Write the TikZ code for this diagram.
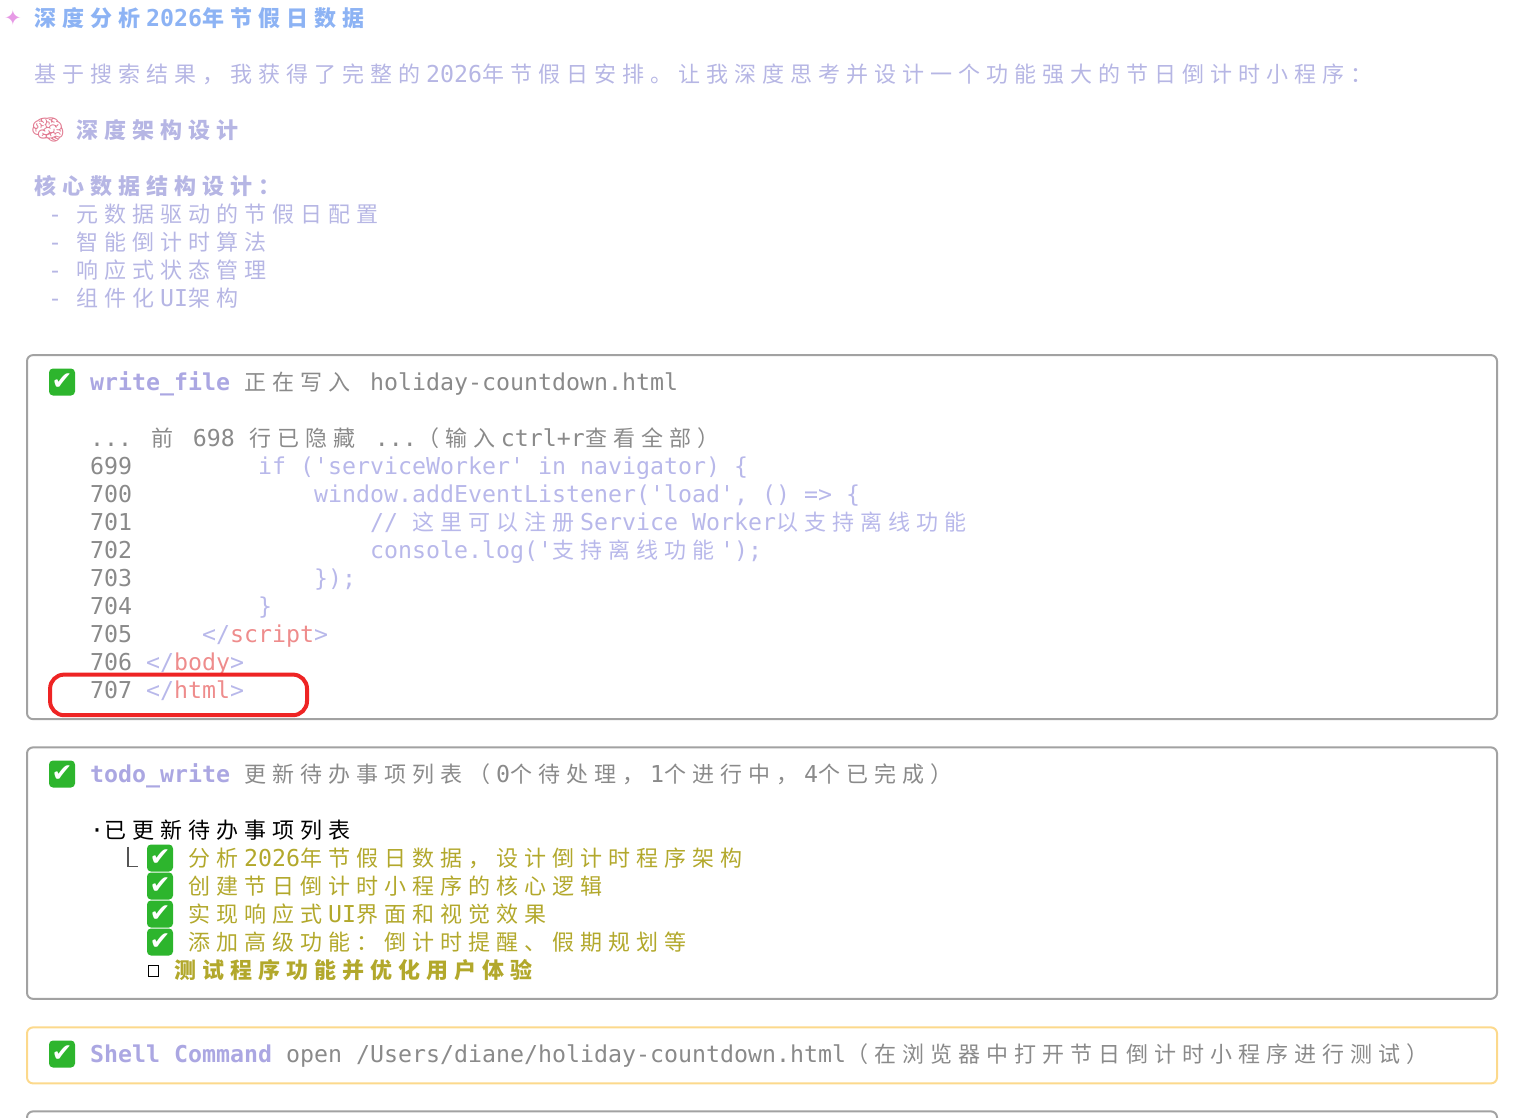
\documentclass[tikz,border=0pt]{standalone}
\usepackage{fontspec}
\newfontfamily\monof{DejaVu Sans Mono}
\newfontfamily\cjkf{Noto Sans CJK SC}
\newfontfamily\symf{DejaVu Sans}
\newfontfamily\emojif{Noto Emoji}
\definecolor{sparkpink}{HTML}{E79AE6}
\definecolor{titleblue}{HTML}{8DB3F4}
\definecolor{lavender}{HTML}{B6B6E4}
\definecolor{toolviolet}{HTML}{ABA7E2}
\definecolor{dimgray}{HTML}{8A8A8A}
\definecolor{codeviolet}{HTML}{B8B8EA}
\definecolor{tagred}{HTML}{EE8C8C}
\definecolor{todoolive}{HTML}{B2A82C}
\definecolor{panelgray}{HTML}{A2A2A2}
\definecolor{shellyellow}{HTML}{FCD98C}
\definecolor{markred}{HTML}{EE2424}
\definecolor{okgreen}{HTML}{2DB52D}
\definecolor{brainpink}{HTML}{E27D93}
\definecolor{treegray}{HTML}{555555}
\newcommand{\monofont}{\monof\fontsize{23.25pt}{28pt}\selectfont}
\newcommand{\cjkfont}{\cjkf\fontsize{22pt}{28pt}\selectfont}
\newcommand{\cj}[1]{\cjloop#1\relax}
\newcommand{\cjloop}[1]{\ifx\relax#1\else\makebox[28pt][l]{\hspace{0.5pt}\cjkfont#1}\expandafter\cjloop\fi}

\begin{document}
\begin{tikzpicture}[x=14pt, y=-28pt,
    ln/.style={anchor=base west, inner sep=0pt, yshift=-8.5pt, font=\monofont},
    okmark/.style={fill=okgreen, rounded corners=4pt, minimum width=26pt, minimum height=27pt,
      inner sep=0pt, text=white, font=\symf\bfseries\fontsize{25pt}{25pt}\selectfont},
    panel/.style={draw=panelgray, line width=2pt, rounded corners=6pt},
    shellpanel/.style={panel, draw=shellyellow},
    markbox/.style={draw=markred, line width=4pt, rounded corners=14pt}]
    \useasboundingbox (-6pt,18pt) rectangle (1534pt,-1100pt);

    \node[inner sep=0pt, text=sparkpink, font=\symf\fontsize{21pt}{21pt}\selectfont] (spark) at (0.5,0) {✦};
    \node[ln, text=titleblue] (title) at (2,0) {\bfseries\cj{深度分析}2026\cj{年节假日数据}};
    \node[ln, text=lavender] (intro) at (2,2) {\cj{基于搜索结果，我获得了完整的}2026\cj{年节假日安排。让我深度思考并设计一个功能强大的节日倒计时小程序：}};
    \node[inner sep=0pt, text=brainpink, font=\emojif\bfseries\fontsize{28pt}{28pt}\selectfont] (brain) at (3,4) {🧠};
    \node[ln, text=lavender] (arch) at (5,4) {\bfseries\cj{深度架构设计}};
    \node[ln, text=lavender] (core) at (2,6) {\bfseries\cj{核心数据结构设计：}};
    \node[ln, text=lavender] (core1) at (3,7) {- \cj{元数据驱动的节假日配置}};
    \node[ln, text=lavender] (core2) at (3,8) {- \cj{智能倒计时算法}};
    \node[ln, text=lavender] (core3) at (3,9) {- \cj{响应式状态管理}};
    \node[ln, text=lavender] (core4) at (3,10) {- \cj{组件化}UI\cj{架构}};

    \draw[panel] (1.5,12.04) rectangle (106.5,25.04);
    \node[okmark] (ok1) at (4,13) {✔};
    \node[ln] (write) at (6,13) {{\color{toolviolet}\bfseries write\_file} {\color{dimgray}\cj{正在写入} holiday-countdown.html}};
    \node[ln, text=dimgray] (hidden) at (6,15) {... \cj{前} 698 \cj{行已隐藏} ...\cj{（输入}ctrl+r\cj{查看全部）}};
    \node[ln, text=dimgray] (n699) at (6,16) {699};
    \node[ln, text=dimgray] (n700) at (6,17) {700};
    \node[ln, text=dimgray] (n701) at (6,18) {701};
    \node[ln, text=dimgray] (n702) at (6,19) {702};
    \node[ln, text=dimgray] (n703) at (6,20) {703};
    \node[ln, text=dimgray] (n704) at (6,21) {704};
    \node[ln, text=dimgray] (n705) at (6,22) {705};
    \node[ln, text=dimgray] (n706) at (6,23) {706};
    \node[ln, text=dimgray] (n707) at (6,24) {707};
    \node[ln, text=codeviolet] (c699) at (18,16) {if ('serviceWorker' in navigator) \{};
    \node[ln, text=codeviolet] (c700) at (22,17) {window.addEventListener('load', () => \{};
    \node[ln, text=codeviolet] (c701) at (26,18) {// \cj{这里可以注册}Service Worker\cj{以支持离线功能}};
    \node[ln, text=codeviolet] (c702) at (26,19) {console.log('\cj{支持离线功能}');};
    \node[ln, text=codeviolet] (c703) at (22,20) {\});};
    \node[ln, text=codeviolet] (c704) at (18,21) {\}};
    \node[ln, text=codeviolet] (c705) at (14,22) {</{\color{tagred}script}>};
    \node[ln, text=codeviolet] (c706) at (10,23) {</{\color{tagred}body}>};
    \node[ln, text=codeviolet] (c707) at (10,24) {</{\color{tagred}html}>};
    \draw[markbox] (3.15,23.45) rectangle (21.5,24.9);

    \draw[panel] (1.5,26.05) rectangle (106.5,35.03);
    \node[okmark] (ok2) at (4,27) {✔};
    \node[ln] (todo) at (6,27) {{\color{toolviolet}\bfseries todo\_write} {\color{dimgray}\cj{更新待办事项列表（}0\cj{个待处理，}1\cj{个进行中，}4\cj{个已完成）}}};
    \node[ln, text=black] (updated) at (6,29) {·\cj{已更新待办事项列表}};
    \draw[treegray, line width=1.5pt] (8.71,29.6) |- (9.43,30.3);
    \node[okmark] (ok3) at (11,30) {✔};
    \node[ln, text=todoolive] (task1) at (13,30) {\cj{分析}2026\cj{年节假日数据，设计倒计时程序架构}};
    \node[okmark] (ok4) at (11,31) {✔};
    \node[ln, text=todoolive] (task2) at (13,31) {\cj{创建节日倒计时小程序的核心逻辑}};
    \node[okmark] (ok5) at (11,32) {✔};
    \node[ln, text=todoolive] (task3) at (13,32) {\cj{实现响应式}UI\cj{界面和视觉效果}};
    \node[okmark] (ok6) at (11,33) {✔};
    \node[ln, text=todoolive] (task4) at (13,33) {\cj{添加高级功能：倒计时提醒、假期规划等}};
    \node[draw=black, line width=1pt, minimum width=10pt, minimum height=11pt, inner sep=0pt] (open5) at (10.5,34.05) {};
    \node[ln, text=todoolive] (task5) at (12,34) {\bfseries\cj{测试程序功能并优化用户体验}};

    \draw[shellpanel] (1.5,36.05) rectangle (106.5,38.05);
    \node[okmark] (ok7) at (4,37) {✔};
    \node[ln] (shell) at (6,37) {{\color{toolviolet}\bfseries Shell Command} {\color{dimgray}open /Users/diane/holiday-countdown.html\cj{（在浏览器中打开节日倒计时小程序进行测试）}}};

    \draw[panel] (1.5,39.8) -- (1.5,39.05) -- (106.5,39.05) -- (106.5,39.8);
\end{tikzpicture}
\end{document}
